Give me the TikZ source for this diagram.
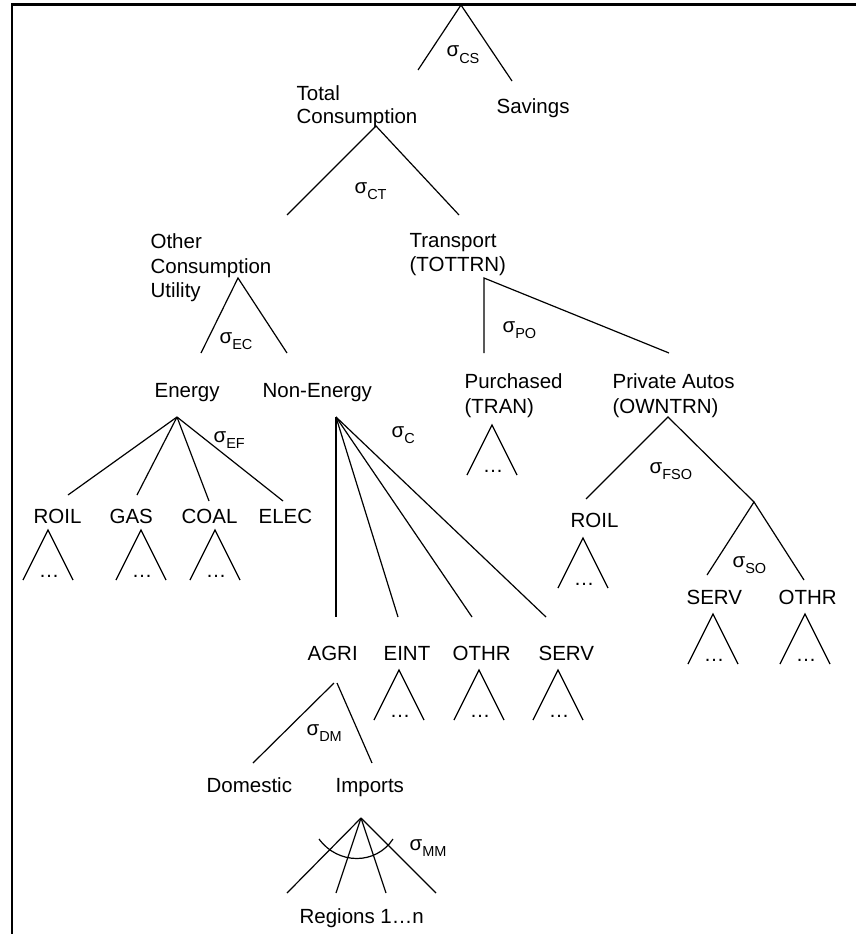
\documentclass[tikz,border=0pt]{standalone}
\usepackage{fontspec}
\setmainfont{Liberation Sans}
\newcommand\sg[1]{σ\raisebox{-6pt}{\fontsize{14.5}{14.5}\selectfont #1}}
\newcommand\leaf[3]{%
  \coordinate (#1) at (#2,#3);
  \draw ([shift={(-25,50)}]#1) -- (#1) -- ([shift={(25,50)}]#1);
  \node[dotsl] (#1d) at ([shift={(1,47)}]#1) {…};}
\begin{document}
\begin{tikzpicture}[x=1pt,y=-1pt,line width=1.2pt,
  lbl/.style={anchor=base west,inner sep=0pt,font=\fontsize{20.5}{24}\selectfont},
  sig/.style={anchor=base west,inner sep=0pt,font=\fontsize{20.5}{24}\selectfont},
  dotsl/.style={anchor=base,inner sep=0pt,font=\fontsize{20.5}{24}\selectfont},
  frame/.style={line width=2.6pt}]
\useasboundingbox (0,0) rectangle (856,934);
% frame
\coordinate (f1) at (856,4.7); \coordinate (f2) at (12,4.7); \coordinate (f3) at (12,934);
\draw[frame] (f1) -- (f2) -- (f3);

% labels
\node[lbl] (tot1) at (296,100) {Total};
\node[lbl] (tot2) at (296,123) {Consumption};
\node[lbl] (sav) at (496,113) {Savings};
\node[lbl] (oth1) at (150,248) {Other};
\node[lbl] (oth2) at (150,273) {Consumption};
\node[lbl] (oth3) at (150,297) {Utility};
\node[lbl] (tr1) at (409,247) {Transport};
\node[lbl] (tr2) at (409,271) {(TOTTRN)};
\node[lbl] (ene) at (154,397) {Energy};
\node[lbl] (nen) at (262,397) {Non-Energy};
\node[lbl] (pur1) at (464,388) {Purchased};
\node[lbl] (pur2) at (464,413) {(TRAN)};
\node[lbl] (pa1) at (612,388) {Private Autos};
\node[lbl] (pa2) at (612,413) {(OWNTRN)};
\node[lbl] (roil) at (33,523) {ROIL};
\node[lbl] (gas) at (109,523) {GAS};
\node[lbl] (coal) at (181,523) {COAL};
\node[lbl] (elec) at (258,523) {ELEC};
\node[lbl] (roilp) at (570,527) {ROIL};
\node[lbl] (servp) at (686,604) {SERV};
\node[lbl] (othrp) at (778,604) {OTHR};
\node[lbl] (agri) at (307,660) {AGRI};
\node[lbl] (eint) at (383,660) {EINT};
\node[lbl] (othrn) at (452,660) {OTHR};
\node[lbl] (servn) at (538,660) {SERV};
\node[lbl] (dom) at (206,792) {Domestic};
\node[lbl] (imp) at (335,792) {Imports};
\node[lbl] (reg) at (299,923) {Regions 1…n};

% sigma labels
\node[sig] (sCS) at (446,57) {\sg{CS}};
\node[sig] (sCT) at (354,193) {\sg{CT}};
\node[sig] (sEC) at (219,343) {\sg{EC}};
\node[sig] (sEF) at (213,442) {\sg{EF}};
\node[sig] (sC) at (391,437) {\sg{C}};
\node[sig] (sPO) at (502,332) {\sg{PO}};
\node[sig] (sFSO) at (649,473) {\sg{FSO}};
\node[sig] (sSO) at (732,567) {\sg{SO}};
\node[sig] (sDM) at (306,735) {\sg{DM}};
\node[sig] (sMM) at (409,850) {\sg{MM}};

% branches
\coordinate (r) at (461,5); \coordinate (rL) at (418,70); \coordinate (rR) at (512,81);
\draw (rL) -- (r) -- (rR);
\coordinate (ct) at (376,126); \coordinate (ctL) at (287,215); \coordinate (ctR) at (459,215);
\draw (ctL) -- (ct) -- (ctR);
\coordinate (ec) at (238,278); \coordinate (ecL) at (201,353); \coordinate (ecR) at (287,353);
\draw (ecL) -- (ec) -- (ecR);
\coordinate (po) at (484,278); \coordinate (poL) at (484,353); \coordinate (poR) at (669,353);
\draw (poL) -- (po) -- (poR);
\coordinate (ef) at (177,417);
\coordinate (ef1) at (68,495); \coordinate (ef2) at (137,495); \coordinate (ef3) at (209,501); \coordinate (ef4) at (283,501);
\draw (ef) -- (ef1); \draw (ef) -- (ef2); \draw (ef) -- (ef3); \draw (ef) -- (ef4);
\coordinate (c) at (336,417);
\coordinate (c1) at (336,617); \coordinate (c2) at (398,617); \coordinate (c3) at (472,617); \coordinate (c4) at (546,617);
\draw (c) -- (c1); \draw (c) -- (c2); \draw (c) -- (c3); \draw (c) -- (c4);
\coordinate (fso) at (668,417); \coordinate (fsoL) at (586,499); \coordinate (so) at (754,502);
\draw (fsoL) -- (fso) -- (so);
\coordinate (soL) at (707,575); \coordinate (soR) at (804,580);
\draw (soL) -- (so) -- (soR);
\coordinate (dmA) at (334,683); \coordinate (dmB) at (337,683);
\coordinate (dmL) at (253,763); \coordinate (dmR) at (372,763);
\draw (dmA) -- (dmL); \draw (dmB) -- (dmR);
\coordinate (mm) at (361,818);
\coordinate (mm1) at (287,893); \coordinate (mm2) at (336,893); \coordinate (mm3) at (386,893); \coordinate (mm4) at (436,893);
\draw (mm) -- (mm1); \draw (mm) -- (mm2); \draw (mm) -- (mm3); \draw (mm) -- (mm4);
\coordinate (arcA) at (319,839); \coordinate (arcB) at (393,839);
\draw (arcA) .. controls (338,865) and (376,865) .. (arcB);

% leaf subtrees
\leaf{lroil}{48}{530}
\leaf{lgas}{141}{530}
\leaf{lcoal}{215}{530}
\leaf{ltran}{492}{425}
\leaf{lroilp}{583}{538}
\leaf{leint}{399}{670}
\leaf{lothrn}{479}{670}
\leaf{lservn}{558}{670}
\leaf{lservp}{713}{614}
\leaf{lothrp}{805}{614}
\end{tikzpicture}
\end{document}
